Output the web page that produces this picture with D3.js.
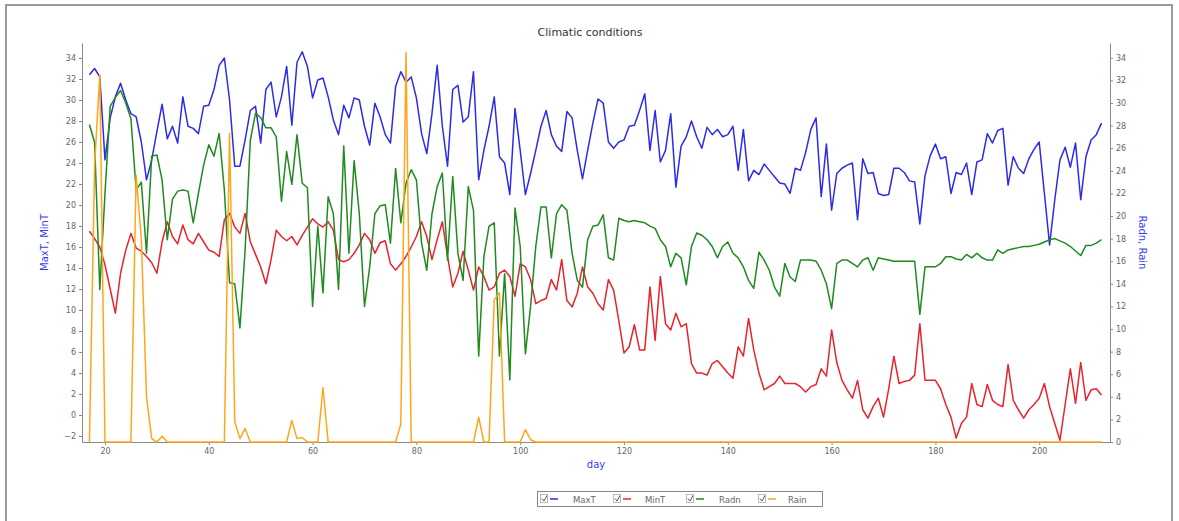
<!DOCTYPE html>
<html><head><meta charset="utf-8">
<script src="https://cdn.jsdelivr.net/npm/d3@7"></script>
<style>
html,body{margin:0;padding:0;background:#fff;}
svg{display:block;font-family:"DejaVu Sans",Verdana,sans-serif;}
</style></head>
<body>
<svg id="chart" width="1179" height="521"></svg>
<script>
// ---------------- data ----------------
const days = [17,18,19,20,21,22,23,24,25,26,27,28,29,30,31,32,33,34,35,36,37,38,39,40,41,42,43,44,45,46,47,48,49,50,
51,52,53,54,55,56,57,58,59,60,61,62,63,64,65,66,67,68,69,70,71,72,73,74,75,76,77,78,79,80,81,82,83,84,85,86,87,88,89,90,
91,92,93,94,95,96,97,98,99,100,101,102,103,104,105,106,107,108,109,110,111,112,113,114,115,116,117,118,119,120,
121,122,123,124,125,126,127,128,129,130,131,132,133,134,135,136,137,138,139,140,141,142,143,144,145,146,147,148,149,150,
151,152,153,154,155,156,157,158,159,160,161,162,163,164,165,166,167,168,169,170,171,172,173,174,175,176,177,178,179,180,
181,182,183,184,185,186,187,188,189,190,191,192,193,194,195,196,197,198,199,200,201,202,203,204,205,206,207,208,209,210,211,212];

const maxT = [32.4,33.0,32.2,24.3,28.3,30.3,31.6,30.0,28.7,28.4,26.0,22.4,24.3,27.0,29.6,26.3,27.5,25.9,30.3,27.5,27.3,26.8,29.4,29.5,31.0,33.3,34.0,30.0,23.7,23.7,26.2,29.0,29.4,25.9,
31.0,31.7,28.4,30.3,33.2,27.6,33.6,34.6,33.2,30.2,31.9,32.1,30.3,28.1,26.7,29.5,28.3,30.2,30.0,27.5,25.7,29.7,28.4,26.7,25.9,31.3,32.7,31.7,32.2,30.2,26.8,24.9,28.7,33.3,27.5,23.7,31.0,31.4,27.9,28.4,
32.7,22.4,25.2,27.5,30.3,24.6,24.0,21.0,29.2,25.2,21.0,23.0,25.2,27.5,29.0,26.7,25.6,25.1,28.9,28.3,25.2,22.5,25.2,27.8,30.1,29.7,26.0,25.4,26.0,26.2,
27.5,27.6,29.0,30.6,25.2,29.0,24.1,25.2,28.7,21.7,25.6,26.5,28.0,26.5,25.4,27.4,26.7,27.2,26.5,26.7,27.5,23.3,27.2,22.3,23.3,22.9,23.9,23.3,22.7,22.1,
22.0,21.1,23.5,23.3,25.0,27.2,28.3,20.8,25.8,19.5,23.0,23.5,23.8,24.0,18.6,24.4,23.0,23.1,21.1,20.9,21.0,23.5,23.5,23.1,22.3,22.2,18.2,22.8,24.7,25.8,
24.4,24.6,21.1,23.1,22.9,24.0,21.0,24.1,24.3,26.8,25.9,27.1,27.3,21.9,24.6,23.5,23.0,24.4,25.3,26.0,21.1,16.2,20.5,24.3,25.5,23.6,25.9,20.5,24.6,26.2,26.7,27.8];

const minT = [17.5,16.8,16.0,14.3,12.0,9.7,13.5,15.7,17.3,15.9,15.6,15.1,14.5,13.5,16.5,18.4,17.0,16.3,18.1,16.7,16.3,17.3,16.5,15.7,15.5,15.1,18.6,19.2,17.9,17.3,19.2,16.5,15.3,14.1,
12.5,14.8,17.6,17.0,16.6,17.0,16.2,17.1,17.9,18.7,18.2,17.9,18.4,17.6,14.8,14.6,14.8,15.4,16.2,17.3,16.7,15.4,16.4,16.6,14.4,13.8,14.4,15.1,16.0,17.0,18.4,17.0,14.8,16.7,18.4,15.1,12.2,13.5,15.6,13.8,
11.9,14.1,13.2,11.9,12.2,13.5,13.8,13.2,11.3,14.4,14.1,12.9,10.6,10.9,11.1,12.9,11.9,14.8,10.9,10.3,11.6,14.1,12.2,11.6,10.6,10.0,12.9,11.9,9.0,5.9,
6.5,8.6,6.2,6.2,12.2,7.1,13.2,8.7,8.1,9.7,8.4,8.7,4.9,4.0,4.0,3.8,4.9,5.2,4.6,4.0,3.5,6.5,5.6,9.2,6.2,4.0,2.4,2.7,3.0,3.7,
3.0,3.0,3.0,2.7,2.2,2.7,2.9,4.4,3.7,8.1,5.0,3.3,2.4,1.6,3.3,0.5,-0.3,0.8,1.6,-0.2,2.5,5.6,3.0,3.2,3.3,3.8,8.7,3.3,3.3,3.3,
2.5,1.0,-0.2,-2.2,-0.8,-0.2,3.0,1.0,0.8,2.9,1.4,1.0,0.8,4.8,1.4,0.5,-0.3,0.5,1.0,1.6,3.0,0.8,-0.8,-2.4,1.0,4.4,1.1,5.0,1.4,2.4,2.5,1.9];

const radn = [28.1,26.5,13.5,22.0,29.7,30.5,31.1,30.0,28.6,22.3,23.0,16.7,25.3,25.4,23.2,17.9,21.5,22.2,22.3,22.2,19.4,22.0,24.5,26.3,25.3,27.3,22.3,14.1,14.0,10.1,17.0,26.7,29.1,28.7,
27.8,27.8,27.0,21.3,25.7,22.8,27.2,22.9,22.5,12.0,19.1,13.2,21.7,20.2,13.5,26.2,16.7,24.9,20.2,12.0,15.5,20.2,20.9,21.0,17.6,24.2,19.4,22.9,24.1,23.2,17.6,15.2,20.2,22.6,23.8,16.1,23.5,16.7,14.3,22.6,
20.5,7.6,16.4,19.1,19.4,7.6,14.9,5.5,20.7,17.3,7.8,12.0,17.3,20.8,20.8,16.3,20.2,21.0,20.5,16.7,14.3,13.7,17.9,19.1,19.2,20.1,16.3,16.1,19.8,19.6,
19.5,19.6,19.5,19.4,19.1,18.9,17.9,17.3,15.5,16.7,16.3,13.9,17.3,18.5,18.3,17.9,17.3,16.3,17.3,17.7,16.7,16.3,15.5,14.3,13.6,16.8,16.1,15.2,13.7,12.9,
15.8,14.6,14.2,16.1,16.1,16.1,16.0,15.2,14.0,11.8,15.8,16.1,16.1,15.8,15.5,16.1,16.3,15.2,16.3,16.2,16.1,16.0,16.0,16.0,16.0,16.0,11.3,15.5,15.5,15.5,
15.8,16.4,16.4,16.2,16.1,16.6,16.3,16.7,16.3,16.1,16.1,17.0,16.7,17.0,17.1,17.2,17.3,17.3,17.4,17.5,17.7,17.9,18.0,17.8,17.6,17.3,16.9,16.5,17.4,17.4,17.6,17.9];

const rain = [0,24.5,32.5,0,0,0,0,0,0,23.6,18.0,4.0,0.3,0,0.5,0,0,0,0,0,0,0,0,0,0,0,0,27.3,1.8,0.3,1.2,0,0,0,
0,0,0,0,0,1.9,0.3,0.4,0,0,0,4.8,0,0,0,0,0,0,0,0,0,0,0,0,0,0,1.6,34.5,0,0,0,0,0,0,0,0,0,0,0,0,
0,2.2,0,0,12.6,13.2,0,0,0,0,1.1,0.2,0,0,0,0,0,0,0,0,0,0,0,0,0,0,0,0,0,0,
0,0,0,0,0,0,0,0,0,0,0,0,0,0,0,0,0,0,0,0,0,0,0,0,0,0,0,0,0,0,
0,0,0,0,0,0,0,0,0,0,0,0,0,0,0,0,0,0,0,0,0,0,0,0,0,0,0,0,0,0,
0,0,0,0,0,0,0,0,0,0,0,0,0,0,0,0,0,0,0,0,0,0,0,0,0,0,0,0,0,0,0,0];

const leftTicks = [-2,0,2,4,6,8,10,12,14,16,18,20,22,24,26,28,30,32,34];
const rightTicks = [0,2,4,6,8,10,12,14,16,18,20,22,24,26,28,30,32,34];
const xTicks = [20,40,60,80,100,120,140,160,180,200];
const seriesNames = ["MaxT","MinT","Radn","Rain"];
const seriesColors = ["#2b2bea","#e8232b","#1f8a1f","#ffa51a"];

// ---------------- layout ----------------
const svg = d3.select("#chart");
const L = 82, R = 1110, T = 43, B = 442;

const x = d3.scaleLinear().domain([15.57, 213.64]).range([L, R]);
const yL = d3.scaleLinear().domain([-2.57, 35.43]).range([B, T]);
const yR = d3.scaleLinear().domain([0, 35.31]).range([B, T]);

// outer frame
svg.append("rect").attr("x",6).attr("y",5).attr("width",1166).attr("height",540)
  .attr("fill","#fff").attr("stroke","#9a9a9a").attr("stroke-width",2);

// title
svg.append("text").attr("x",590).attr("y",36).attr("text-anchor","middle")
  .attr("font-size",11).attr("fill","#333").text("Climatic conditions");

const axisColor = "#8a8a8a", tickText = "#666";

// left axis
const gL = svg.append("g").attr("transform",`translate(${L},0)`)
  .call(d3.axisLeft(yL).tickValues(leftTicks).tickSize(3).tickPadding(3).tickSizeOuter(0));
// right axis
const gR = svg.append("g").attr("transform",`translate(${R},0)`)
  .call(d3.axisRight(yR).tickValues(rightTicks).tickSize(3).tickPadding(3).tickSizeOuter(0));
// bottom axis
const gB = svg.append("g").attr("transform",`translate(0,${B})`)
  .call(d3.axisBottom(x).tickValues(xTicks).tickSize(3).tickPadding(3).tickSizeOuter(0));

[gL,gR,gB].forEach(g=>{
  g.select(".domain").attr("stroke",axisColor);
  g.selectAll(".tick line").attr("stroke",axisColor);
  g.selectAll(".tick text").attr("fill",tickText).attr("font-size",8)
    .attr("font-family","DejaVu Sans, Verdana, sans-serif");
});

// axis titles
svg.append("text").attr("transform",`translate(48,${(T+B)/2}) rotate(-90)`)
  .attr("text-anchor","middle").attr("font-size",10).attr("fill","#3a3af0").text("MaxT, MinT");
svg.append("text").attr("transform",`translate(1139,${(T+B)/2}) rotate(90)`)
  .attr("text-anchor","middle").attr("font-size",10).attr("fill","#3a3af0").text("Radn, Rain");
svg.append("text").attr("x",(L+R)/2).attr("y",468).attr("text-anchor","middle")
  .attr("font-size",10).attr("fill","#3a3af0").text("day");

// series lines
const plot = svg.append("g");
const seriesData = [
  {vals:maxT, y:yL},
  {vals:minT, y:yL},
  {vals:radn, y:yR},
  {vals:rain, y:yR}
];
seriesData.forEach((s,i)=>{
  const line = d3.line().x((d,j)=>x(days[j])).y(d=>s.y(d));
  plot.append("path").datum(s.vals).attr("d",line)
    .attr("fill","none").attr("stroke",seriesColors[i]).attr("stroke-width",1.5)
    .attr("stroke-linejoin","round");
});

// legend
const lg = svg.append("g");
lg.append("rect").attr("x",537.5).attr("y",491.5).attr("width",285).attr("height",15)
  .attr("fill","#fff").attr("stroke","#888");
const legX = [540, 613, 686, 758];
const textX = [573, 645, 719, 788];
seriesNames.forEach((n,i)=>{
  const ex = legX[i];
  lg.append("rect").attr("x",ex+0.5).attr("y",494.5).attr("width",7).attr("height",8)
    .attr("fill","#fff").attr("stroke","#aaa").attr("stroke-width",0.8);
  lg.append("path").attr("d",`M${ex+2},${498.5} L${ex+4},${501} L${ex+7},${495.5}`)
    .attr("fill","none").attr("stroke","#555").attr("stroke-width",1);
  lg.append("line").attr("x1",ex+10).attr("x2",ex+18).attr("y1",499).attr("y2",499)
    .attr("stroke",seriesColors[i]).attr("stroke-width",1.5);
  lg.append("text").attr("x",textX[i]).attr("y",502.5).attr("font-size",8.5)
    .attr("fill","#666").text(n);
});
</script>
</body></html>
